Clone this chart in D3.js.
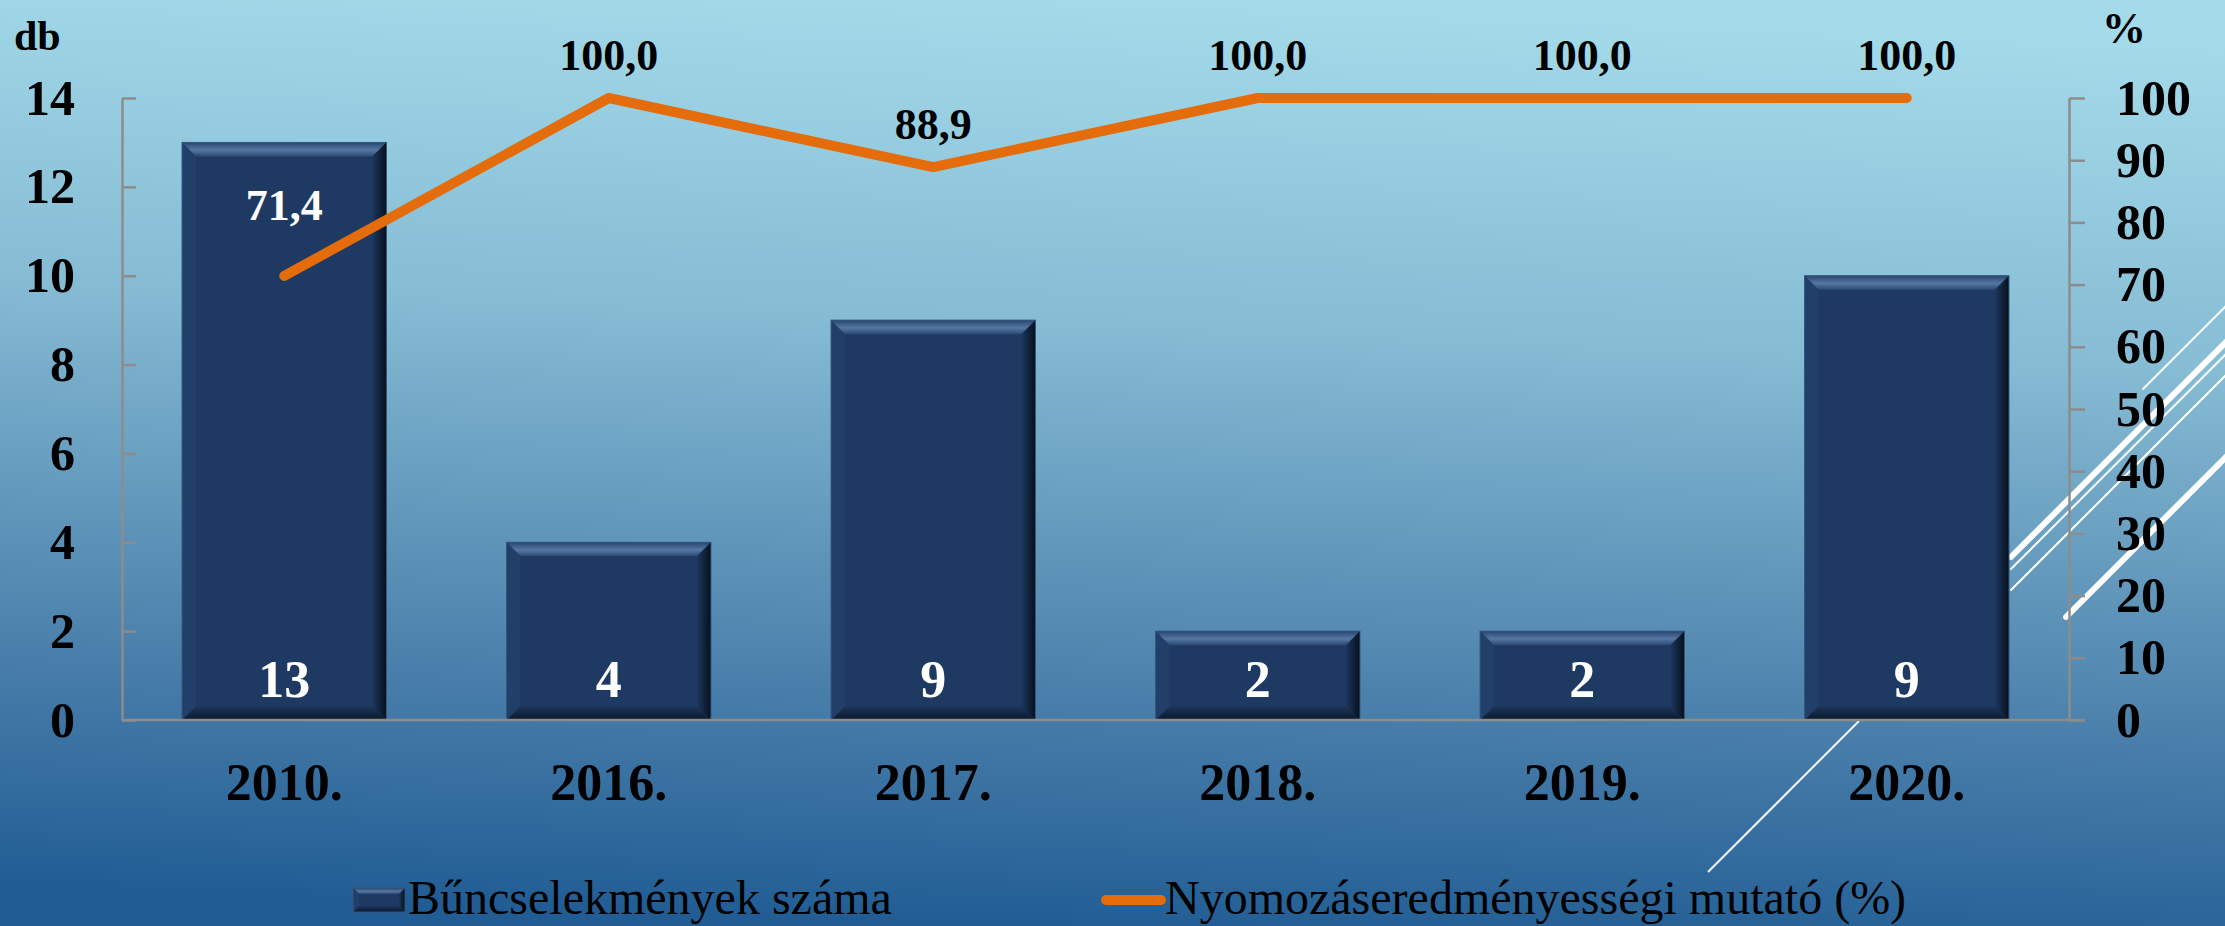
<!DOCTYPE html>
<html>
<head>
<meta charset="utf-8">
<script src="https://cdn.jsdelivr.net/npm/d3@7"></script>
<style>
  body { margin: 0; overflow: hidden; }
  svg { display: block; }
  text { font-family: "Liberation Serif", "Times New Roman", serif; }
</style>
</head>
<body>
<div class="canvas"></div>
<script>
// data
const categories = ['2010.', '2016.', '2017.', '2018.', '2019.', '2020.'];
const crimeCounts = [13, 4, 9, 2, 2, 10];
const crimeLabels = ['13', '4', '9', '2', '2', '9'];
const clearanceRate = [71.4, 100, 88.9, 100, 100, 100];
const leftTicks = [0, 2, 4, 6, 8, 10, 12, 14];
const rightTicks = [0, 10, 20, 30, 40, 50, 60, 70, 80, 90, 100];
const seriesNames = ['Bűncselekmények száma', 'Nyomozáseredményességi mutató (%)'];

const width = 2225, height = 926;
const margin = {top: 98, right: 156, bottom: 206, left: 122};
const plotRight = width - margin.right;
const plotBottom = height - margin.bottom;

const svg = d3.select('.canvas')
    .append('svg')
    .attr('width', width)
    .attr('height', height);

const defs = svg.append('defs');

const bg = defs.append('linearGradient')
    .attr('id', 'bg')
    .attr('x1', '0.55').attr('y1', '0')
    .attr('x2', '0.45').attr('y2', '1');
bg.append('stop').attr('offset', '0').attr('stop-color', '#a4dbea');
bg.append('stop').attr('offset', '0.35').attr('stop-color', '#86bcd4');
bg.append('stop').attr('offset', '0.75').attr('stop-color', '#4a7fab');
bg.append('stop').attr('offset', '1').attr('stop-color', '#215d94');

const grad = (id, x2, y2, stops) => {
    const g = defs.append('linearGradient').attr('id', id)
        .attr('x1', 0).attr('y1', 0).attr('x2', x2).attr('y2', y2);
    stops.forEach(s => g.append('stop').attr('offset', s[0]).attr('stop-color', s[1]));
};
grad('bevTop', 0, 1, [[0, '#27466f'], [0.55, '#5677a2'], [1, '#2a4a74']]);
grad('bevRight', 1, 0, [[0, '#1c375e'], [1, '#06101c']]);
grad('bevBottom', 0, 1, [[0, '#1c375e'], [1, '#0b182a']]);

svg.append('rect')
    .attr('width', width)
    .attr('height', height)
    .attr('fill', 'url(#bg)');

// decorative theme lines (slide background)
const deco = [
    {c: 2532, x0: 2143, w: 2},
    {c: 2568, x0: 2011, w: 6},
    {c: 2580, x0: 2011, w: 2},
    {c: 2601, x0: 2011, w: 2},
    {c: 2683, x0: 2066, w: 6}
];
deco.forEach(d => {
    svg.append('line')
        .attr('x1', d.x0).attr('y1', d.c - d.x0)
        .attr('x2', 2300).attr('y2', d.c - 2300)
        .attr('stroke', '#fff')
        .attr('stroke-width', d.w)
        .attr('stroke-linecap', 'round');
});
svg.append('line')
    .attr('x1', 1708).attr('y1', 872)
    .attr('x2', 1859).attr('y2', 721)
    .attr('stroke', '#fff')
    .attr('stroke-width', 2);

const x = d3.scaleBand()
    .domain(categories)
    .range([margin.left, plotRight])
    .paddingInner(0.37)
    .paddingOuter(0.185);

const y = d3.scaleLinear()
    .domain([0, 14])
    .range([plotBottom, margin.top]);

const y2 = d3.scaleLinear()
    .domain([0, 100])
    .range([plotBottom, margin.top]);

// bevelled bar
const drawBar = (g, x0, x1, y0, y1, b) => {
    g.append('rect')
        .attr('x', x0).attr('y', y0)
        .attr('width', x1 - x0).attr('height', y1 - y0)
        .attr('fill', '#1e3a63');
    const poly = (pts, fill) => g.append('polygon')
        .attr('points', pts.map(p => p.join(',')).join(' '))
        .attr('fill', fill);
    poly([[x0, y0], [x1, y0], [x1 - b, y0 + b], [x0 + b, y0 + b]], 'url(#bevTop)');
    poly([[x1, y0], [x1, y1], [x1 - b, y1 - b], [x1 - b, y0 + b]], 'url(#bevRight)');
    poly([[x0, y1], [x1, y1], [x1 - b, y1 - b], [x0 + b, y1 - b]], 'url(#bevBottom)');
    poly([[x0, y0], [x0 + b, y0 + b], [x0 + b, y1 - b], [x0, y1]], '#213f69');
    g.append('rect')
        .attr('x', x0).attr('y', y0)
        .attr('width', x1 - x0).attr('height', y1 - y0)
        .attr('fill', 'none')
        .attr('stroke', '#35577f')
        .attr('stroke-width', 1);
};

const bars = svg.append('g');
crimeCounts.forEach((v, i) => {
    const g = bars.append('g');
    const x0 = x(categories[i]);
    drawBar(g, x0, x0 + x.bandwidth(), y(v), y(0), 14);
});

// axes
const axisStyle = g => {
    g.select('.domain').attr('stroke', '#8c8c8c').attr('stroke-width', 2.5);
    g.selectAll('.tick line').attr('stroke', '#8c8c8c').attr('stroke-width', 2.5);
    g.selectAll('.tick text')
        .attr('fill', '#000')
        .attr('font-size', 50)
        .attr('font-weight', 'bold')
        .attr('font-family', '"Liberation Serif", "Times New Roman", serif');
};

svg.append('g')
    .attr('transform', `translate(${margin.left},0)`)
    .call(d3.axisLeft(y).tickValues(leftTicks).tickSizeInner(-14).tickSizeOuter(0).tickPadding(47))
    .call(axisStyle);

svg.append('g')
    .attr('transform', `translate(${plotRight},0)`)
    .call(d3.axisRight(y2).tickValues(rightTicks).tickSizeInner(16).tickSizeOuter(0).tickPadding(31))
    .call(axisStyle)
    .call(g => g.selectAll('.tick text').attr('text-anchor', 'start'));

// category axis
svg.append('line')
    .attr('x1', margin.left).attr('x2', plotRight + 16)
    .attr('y1', plotBottom).attr('y2', plotBottom)
    .attr('stroke', '#8c8c8c')
    .attr('stroke-width', 2.5);

svg.append('g').selectAll('text')
    .data(categories)
    .enter().append('text')
    .attr('x', d => x(d) + x.bandwidth() / 2)
    .attr('y', 800)
    .attr('text-anchor', 'middle')
    .attr('font-size', 52)
    .attr('font-weight', 'bold')
    .text(d => d);

// bar value labels
svg.append('g').selectAll('text')
    .data(crimeLabels)
    .enter().append('text')
    .attr('x', (d, i) => x(categories[i]) + x.bandwidth() / 2)
    .attr('y', plotBottom - 23)
    .attr('text-anchor', 'middle')
    .attr('font-size', 52)
    .attr('font-weight', 'bold')
    .attr('fill', '#fff')
    .text(d => d);

// line series
const cx = (d, i) => x(categories[i]) + x.bandwidth() / 2;
const line = d3.line()
    .x(cx)
    .y(d => y2(d));

svg.append('path')
    .datum(clearanceRate)
    .attr('d', line)
    .attr('fill', 'none')
    .attr('stroke', '#e46c0a')
    .attr('stroke-width', 10)
    .attr('stroke-linecap', 'round')
    .attr('stroke-linejoin', 'round');

const fmt = d3.format('.1f');
svg.append('g').selectAll('text')
    .data(clearanceRate)
    .enter().append('text')
    .attr('x', cx)
    .attr('y', (d, i) => y2(d) - (i === 0 ? 56 : 28))
    .attr('text-anchor', 'middle')
    .attr('font-size', 44)
    .attr('font-weight', 'bold')
    .attr('fill', (d, i) => i === 0 ? '#fff' : '#000')
    .text(d => fmt(d).replace('.', ','));

// axis titles
svg.append('text')
    .attr('x', 14).attr('y', 50)
    .attr('font-size', 42)
    .attr('font-weight', 'bold')
    .text('db');

svg.append('text')
    .attr('x', 2102).attr('y', 43)
    .attr('font-size', 44)
    .attr('font-weight', 'bold')
    .text('%');

// legend
const legend = svg.append('g');
drawBar(legend.append('g'), 353, 405, 888, 912, 6);
legend.append('text')
    .attr('x', 408).attr('y', 914)
    .attr('font-size', 48)
    .text(seriesNames[0]);

legend.append('line')
    .attr('x1', 1106).attr('x2', 1161)
    .attr('y1', 900).attr('y2', 900)
    .attr('stroke', '#e46c0a')
    .attr('stroke-width', 10)
    .attr('stroke-linecap', 'round');
legend.append('text')
    .attr('x', 1165).attr('y', 914)
    .attr('font-size', 48)
    .text(seriesNames[1]);
</script>
</body>
</html>
